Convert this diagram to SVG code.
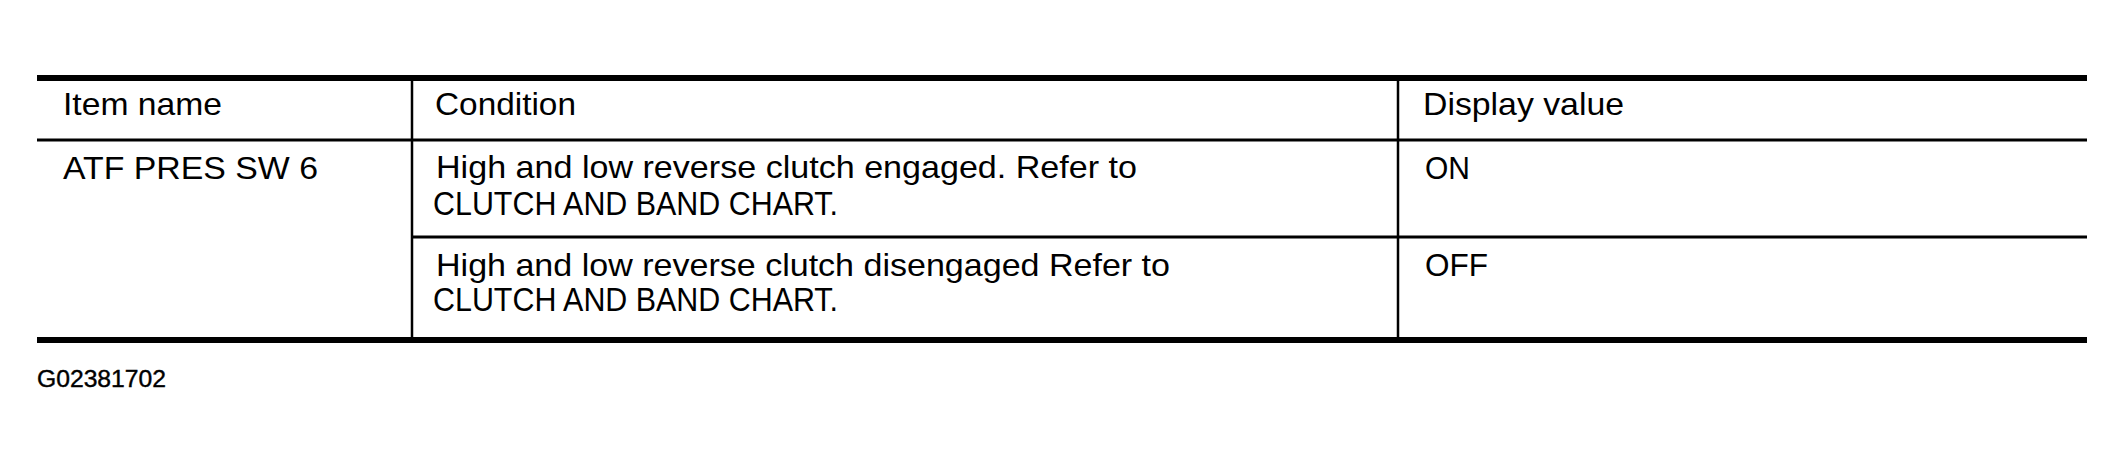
<svg xmlns="http://www.w3.org/2000/svg" width="2124" height="462" viewBox="0 0 2124 462">
<style>
.t{font-family:"Liberation Sans",Arial,sans-serif;font-size:30.5px;fill:#000}
.c{font-family:"Liberation Sans",Arial,sans-serif;font-size:33px;fill:#000}
.id{font-family:"Liberation Sans",Arial,sans-serif;font-size:23px;fill:#000;stroke:#000;stroke-width:0.4}
.thick{stroke:#000;stroke-width:6}
.thin{stroke:#000;stroke-width:3}
.vert{stroke:#000;stroke-width:2.5}
</style>
<rect width="2124" height="462" fill="#fff"/>
<g id="grid">
<line class="vert" x1="412" y1="78" x2="412" y2="340"/>
<line class="vert" x1="1398" y1="78" x2="1398" y2="340"/>
<line class="thin" x1="37" y1="140" x2="2087" y2="140"/>
<line class="thin" x1="412" y1="237" x2="2087" y2="237"/>
<line class="thick" x1="37" y1="78" x2="2087" y2="78"/>
<line class="thick" x1="37" y1="340" x2="2087" y2="340"/>
</g>
<g id="header">
<text class="t" x="63" y="115" textLength="159" lengthAdjust="spacingAndGlyphs">Item name</text>
<text class="t" x="435" y="115" textLength="141" lengthAdjust="spacingAndGlyphs">Condition</text>
<text class="t" x="1423" y="115" textLength="201" lengthAdjust="spacingAndGlyphs">Display value</text>
</g>
<g id="item">
<text class="t" x="63" y="179" textLength="255" lengthAdjust="spacingAndGlyphs">ATF PRES SW 6</text>
</g>
<g id="row1">
<text class="t" x="436" y="178" textLength="701" lengthAdjust="spacingAndGlyphs">High and low reverse clutch engaged. Refer to</text>
<text class="c" x="433" y="215" textLength="405" lengthAdjust="spacingAndGlyphs">CLUTCH AND BAND CHART.</text>
<text class="t" x="1425" y="179" textLength="45" lengthAdjust="spacingAndGlyphs">ON</text>
</g>
<g id="row2">
<text class="t" x="436" y="276" textLength="734" lengthAdjust="spacingAndGlyphs">High and low reverse clutch disengaged Refer to</text>
<text class="c" x="433" y="311" textLength="405" lengthAdjust="spacingAndGlyphs">CLUTCH AND BAND CHART.</text>
<text class="t" x="1425" y="276" textLength="63" lengthAdjust="spacingAndGlyphs">OFF</text>
</g>
<g id="caption">
<text class="id" x="37" y="387" textLength="129" lengthAdjust="spacingAndGlyphs">G02381702</text>
</g>
</svg>
